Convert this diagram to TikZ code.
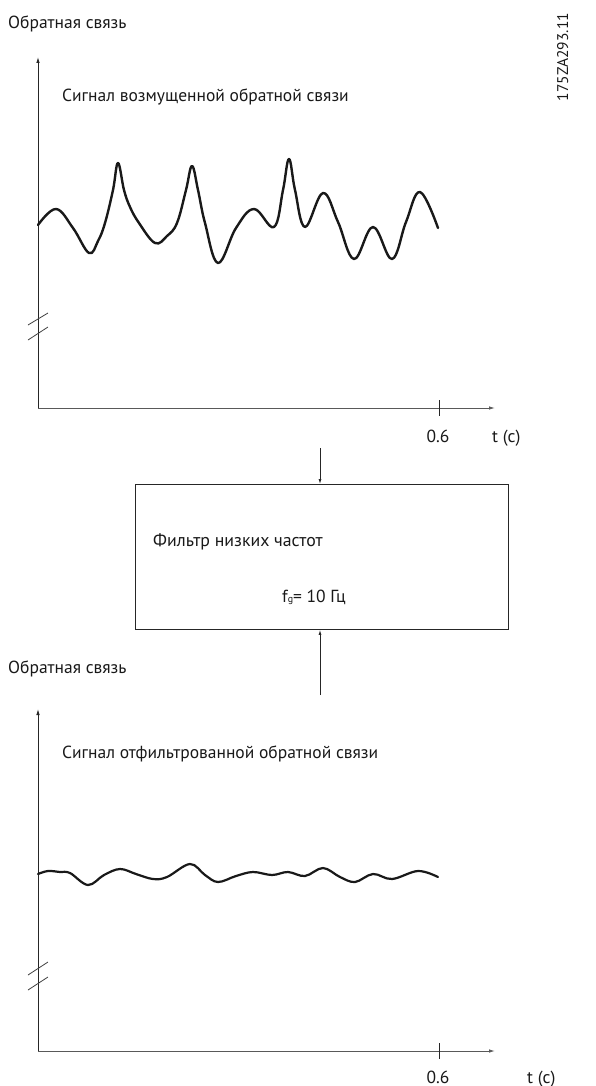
\documentclass[tikz,border=0pt]{standalone}
\usepackage{fontspec}
\setmainfont{PT Sans}
\usetikzlibrary{arrows.meta}
\begin{document}
\begin{tikzpicture}[x=1pt,y=-1pt,
  axis/.style={line width=0.9pt,draw=black!85,-{Latex[length=6pt,width=3.5pt]}},
  xaxis/.style={axis,draw=black!65},
  brk/.style={line width=0.8pt,draw=black!75},
  wave/.style={line width=2.4pt,draw=black!90,line cap=round,line join=round},
  lbl/.style={font=\fontsize{17.5}{20}\selectfont,inner sep=0pt,text=black!90},
  flow/.style={line width=0.8pt,draw=black!85,-{Latex[length=5pt,width=3pt]}}]
\useasboundingbox (0,0) rectangle (596,1086);
% ---------- top plot ----------
\coordinate (o1) at (38,408);
\coordinate (y1) at (38,57);
\coordinate (x1) at (495,408);
\node[lbl,anchor=base west] (t1) at (8,29) {Обратная связь};
\node[lbl,font=\fontsize{15.5}{18}\selectfont,anchor=base,rotate=90] (code) at (568,57) {175ZA293.11};
\node[lbl,anchor=base west] (s1) at (62,102) {Сигнал возмущенной обратной связи};
\draw[axis] (o1) -- (y1);
\draw[xaxis] (o1) -- (x1);
\coordinate (tk1a) at (439,400);
\coordinate (tk1b) at (439,416);
\draw[line width=0.8pt,black!85] (tk1a) -- (tk1b);
\node[lbl,anchor=base] (n06a) at (438,442) {0.6};
\node[lbl,anchor=base west] (tca) at (492,442) {t (c)};
\coordinate (b1a) at (28,325); \coordinate (b1b) at (48,313);
\coordinate (b1c) at (28,340); \coordinate (b1d) at (48,327);
\draw[brk] (b1a) -- (b1b);
\draw[brk] (b1c) -- (b1d);
\draw[wave] plot[smooth,tension=0.65] coordinates {
 (38,225) (56,209) (73,228) (89,253) (98,241) (105,223) (113,190) (118,163) (124,190)
 (130,207) (139,223) (155,243) (167,236) (177,223) (186,190) (192,166) (198,190)
 (205,223) (218,263) (236,228) (254,209) (274,227) (283,190) (289,159) (295,190)
 (305,227) (323,193) (338,222) (354,259) (373,227) (392,259) (406,222) (420,192) (438,228)};
% ---------- filter ----------
\node[draw=black!85,line width=0.9pt,minimum width=373pt,minimum height=145pt,inner sep=0pt,anchor=north west] (box) at (135,484) {};
\node[lbl,font=\fontsize{17.8}{20}\selectfont,anchor=base west] (ft) at (153,546) {Фильтр низких частот};
\node[lbl,anchor=base west] (fg) at (282,602) {f\raisebox{-0.1ex}{\fontsize{10}{11}\selectfont g}= 10 Гц};
\coordinate (inT) at (320,448);
\coordinate (inB) at (320,695);
\draw[flow] (inT) -- (box.north -| inT);
\draw[flow] (inB) -- (box.south -| inB);
% ---------- bottom plot ----------
\coordinate (o2) at (38,1051);
\coordinate (y2) at (38,709);
\coordinate (x2) at (495,1051);
\node[lbl,anchor=base west] (t2) at (8,673) {Обратная связь};
\node[lbl,anchor=base west] (s2) at (62,758) {Сигнал отфильтрованной обратной связи};
\draw[axis] (o2) -- (y2);
\draw[xaxis] (o2) -- (x2);
\coordinate (tk2a) at (439,1043);
\coordinate (tk2b) at (439,1059);
\draw[line width=0.8pt,black!85] (tk2a) -- (tk2b);
\node[lbl,anchor=base] (n06b) at (438,1083) {0.6};
\node[lbl,anchor=base west] (tcb) at (527,1083) {t (c)};
\coordinate (b2a) at (28,975); \coordinate (b2b) at (48,962);
\coordinate (b2c) at (28,990); \coordinate (b2d) at (48,977);
\draw[brk] (b2a) -- (b2b);
\draw[brk] (b2c) -- (b2d);
\draw[wave,line width=2.2pt] plot[smooth,tension=0.6] coordinates {
 (38,874) (48,871) (60,872) (70,873) (88,885) (104,875) (120,869) (136,874) (153,879)
 (167,877) (190,864) (205,875) (218,882) (236,876) (253,872) (272,875) (288,872)
 (305,876) (323,868) (340,877) (355,882) (373,874) (392,879) (418,871) (438,877)};
\end{tikzpicture}
\end{document}
